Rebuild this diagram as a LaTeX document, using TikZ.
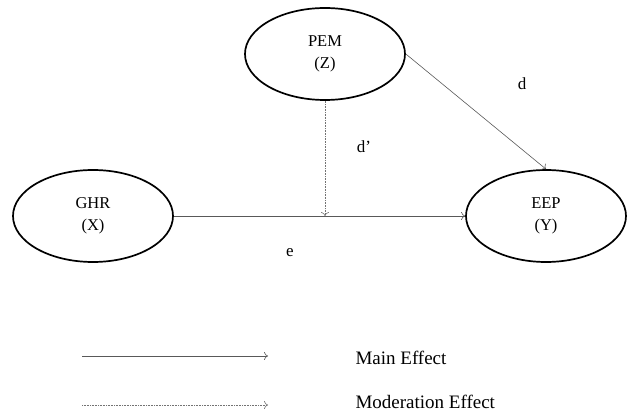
\documentclass[tikz,border=0pt]{standalone}
\usepackage{fontspec}
\setmainfont{Liberation Serif}
\usepackage{tikz}
\usetikzlibrary{arrows.meta, positioning, shapes.geometric}

\begin{document}
\begin{tikzpicture}[
    x=1pt, y=-1pt, >={To[length=4pt, width=8pt]},
    construct/.style={draw, ellipse, line width=1.7pt, inner sep=0pt,
        minimum width=160pt, minimum height=92pt, align=center,
        font=\fontsize{16.5}{22}\selectfont},
    maineff/.style={->, draw=black!65, line width=0.6pt},
    modeff/.style={->, draw=black!55, line width=0.6pt, densely dotted},
    pathlabel/.style={font=\fontsize{17}{19}\selectfont},
    legendtext/.style={anchor=west, font=\fontsize{19}{21}\selectfont},
]
    \useasboundingbox (0,0) rectangle (633,414);

    % ── Constructs ────────────────────────────────
    \node[construct] (PEM) at (325,54) {PEM\\(Z)};
    \node[construct] (GHR) at (93,216) {GHR\\(X)};
    \node[construct] (EEP) at (546,216) {EEP\\(Y)};

    % ── Paths ─────────────────────────────────────
    \draw[maineff] (GHR.east) -- (EEP.west);
    \draw[maineff] (PEM.east) -- (EEP.north);
    \coordinate (modpt) at (PEM.south |- GHR.east);
    \draw[modeff] (PEM.south) -- (modpt);

    % ── Path labels ───────────────────────────────
    \node[pathlabel] (dlab) at (522,84) {d};
    \node[pathlabel] (dmlab) at (364,147) {d’};
    \node[pathlabel] (elab) at (290,253) {e};

    % ── Legend ────────────────────────────────────
    \coordinate (mainA) at (82,356);
    \coordinate (mainB) at (268,356);
    \coordinate (modA) at (82,405);
    \coordinate (modB) at (268,405);
    \draw[maineff] (mainA) -- (mainB);
    \draw[modeff] (modA) -- (modB);
    \node[legendtext] (mainlab) at (352,358) {Main Effect};
    \node[legendtext] (modlab) at (352,402) {Moderation Effect};
\end{tikzpicture}
\end{document}
